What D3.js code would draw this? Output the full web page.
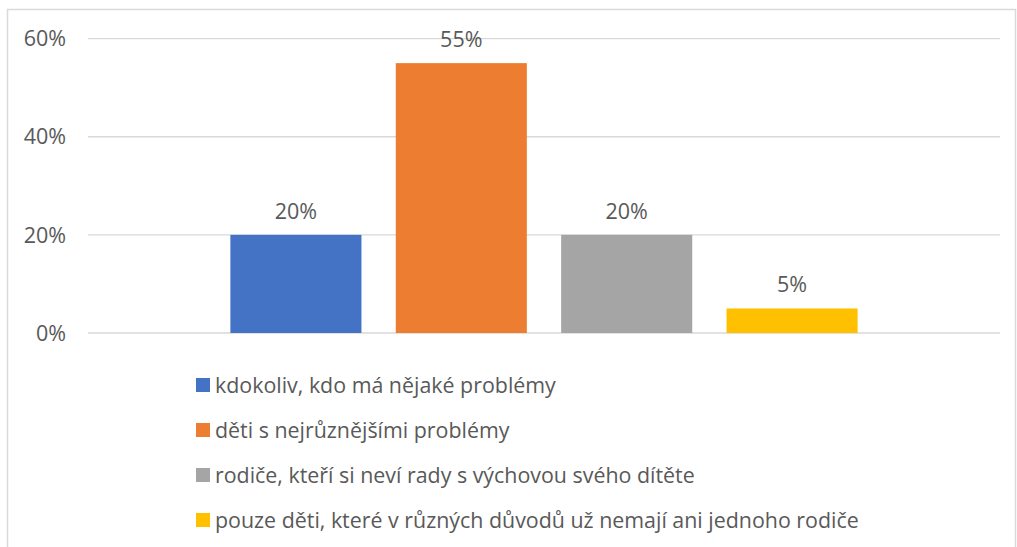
<!DOCTYPE html>
<html lang="cs">
<head>
	<meta charset="utf-8">
	<title>Bar chart</title>
	<script src="https://cdn.jsdelivr.net/npm/d3@7"></script>
	<style>
		body { margin: 0; background: #fff; }
		text { font-family: "Open Sans", sans-serif; fill: #595959; }
		.grid line { stroke: #d9d9d9; stroke-width: 1.3px; }
	</style>
</head>
<body>
<script>
	var series = ["kdokoliv, kdo má nějaké problémy",
		"děti s nejrůznějšími problémy",
		"rodiče, kteří si neví rady s výchovou svého dítěte",
		"pouze děti, které v různých důvodů už nemají ani jednoho rodiče"];
	var values = [0.20, 0.55, 0.20, 0.05];
	var colors = ["#4472c4", "#ed7d31", "#a5a5a5", "#ffc000"];
	var yTicks = [0, 0.2, 0.4, 0.6];

	var width = 1017, height = 547;
	var svg = d3.select("body").append("svg")
		.attr("width", width)
		.attr("height", height);

	// chart border
	svg.append("rect")
		.attr("x", 7.5).attr("y", 9.5)
		.attr("width", 1008).attr("height", 560)
		.attr("fill", "none")
		.attr("stroke", "#d9d9d9")
		.attr("stroke-width", 1.5);

	var y = d3.scaleLinear().domain([0, 0.6]).range([333, 38.6]);
	var x0 = d3.scaleBand().domain(["all"]).range([88, 1000]).paddingInner(0).paddingOuter(0.227);
	var x1 = d3.scaleBand().domain(series).range([0, x0.bandwidth()]).paddingInner(0.2075);

	svg.append("g").attr("class", "grid")
		.selectAll("line").data(yTicks).enter().append("line")
		.attr("x1", 88).attr("x2", 1000)
		.attr("y1", function(d){ return y(d); })
		.attr("y2", function(d){ return y(d); });

	svg.append("g").selectAll("text").data(yTicks).enter().append("text")
		.attr("x", 66)
		.attr("y", function(d){ return y(d); })
		.attr("dy", "0.36em")
		.attr("text-anchor", "end")
		.style("font-size", "21.5px")
		.text(function(d){ return d3.format(".0%")(d); });

	var g = svg.append("g").attr("transform", "translate(" + x0("all") + ",0)");
	g.selectAll("rect").data(values).enter().append("rect")
		.attr("x", function(d, i){ return x1(series[i]); })
		.attr("y", function(d){ return y(d); })
		.attr("width", x1.bandwidth())
		.attr("height", function(d){ return y(0) - y(d); })
		.attr("fill", function(d, i){ return colors[i]; });

	g.selectAll("text.lbl").data(values).enter().append("text")
		.attr("class", "lbl")
		.attr("x", function(d, i){ return x1(series[i]) + x1.bandwidth() / 2; })
		.attr("y", function(d){ return y(d) - 16; })
		.attr("text-anchor", "middle")
		.style("font-size", "21.5px")
		.text(function(d){ return d3.format(".0%")(d); });

	var legend = svg.append("g").selectAll("g").data(series).enter().append("g")
		.attr("transform", function(d, i){ return "translate(196," + (385 + i * 45) + ")"; });
	legend.append("rect")
		.attr("x", 0).attr("y", -7)
		.attr("width", 14).attr("height", 14)
		.attr("fill", function(d, i){ return colors[i]; });
	legend.append("text")
		.attr("x", 19).attr("dy", "0.36em")
		.style("font-size", "21.4px")
		.text(function(d){ return d; });
</script>
</body>
</html>
